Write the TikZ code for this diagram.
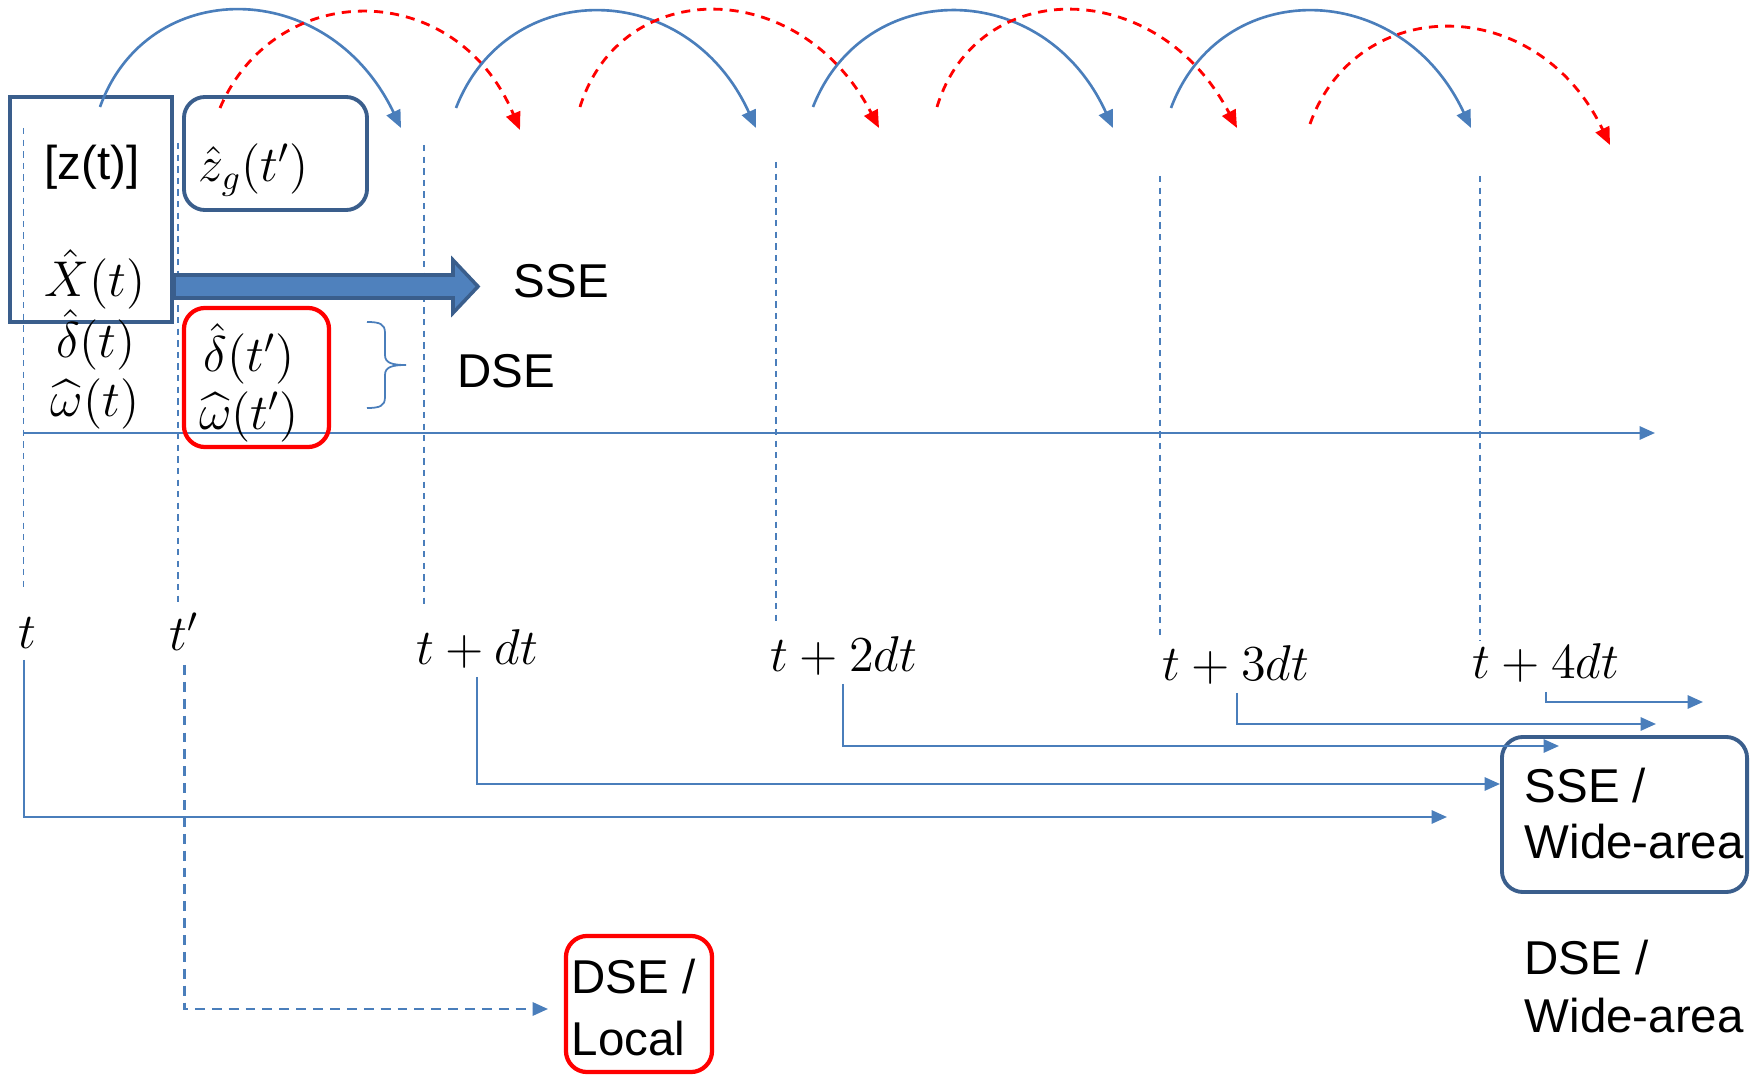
\RequirePackage{fix-cm}
\documentclass[tikz,border=0pt]{standalone}
\usepackage{amsmath}
\usepackage[no-math]{fontspec}
\setmainfont{Liberation Sans}
\usetikzlibrary{arrows.meta}

\definecolor{lineblue}{RGB}{74,126,187}
\definecolor{frameblue}{RGB}{58,94,140}
\definecolor{arrowfill}{RGB}{79,129,189}
\definecolor{dsered}{RGB}{255,0,0}

\begin{document}
\begin{tikzpicture}[x=0.01cm,y=-0.01cm,
  grid tick/.style={draw=lineblue,line width=0.35pt,dash pattern=on 1.8pt off 1.5pt},
  sse hop/.style={draw=lineblue,line width=0.75pt,-{Triangle[length=5pt,width=4.2pt]}},
  dse hop/.style={draw=dsered,line width=0.8pt,dash pattern=on 2.6pt off 2pt,-{Triangle[length=5pt,width=4.2pt]}},
  feed/.style={draw=lineblue,line width=0.6pt,-{Triangle[length=4.4pt,width=3.8pt]}},
  local feed/.style={feed,line width=0.65pt,dash pattern=on 2.8pt off 2pt},
  lbl/.style={inner sep=0pt,font=\fontsize{13.5}{16}\selectfont},
  mth/.style={inner sep=0pt,font=\fontsize{14.3}{17}\selectfont},
  sq frame/.style={draw=frameblue,line width=1pt,inner sep=0pt},
  rnd frame/.style={draw=frameblue,line width=1.1pt,rounded corners=6pt,inner sep=0pt},
  red frame/.style={draw=dsered,line width=1.2pt,rounded corners=6pt,inner sep=0pt},
]
\useasboundingbox (0,0) rectangle (1750,1076);

% time grid
\foreach \x/\a/\b in {23.7/128/592, 178/143/605, 424/145/608, 776/162/623, 1160/176/640, 1480/176/641}
  \draw[grid tick] (\x,\a) -- (\x,\b);

% time axis
\coordinate (ax0) at (23.7,433);
\coordinate (ax1) at (1655,433);
\draw[feed] (ax0) -- (ax1);

% estimator boxes
\node[sq frame,minimum width=1.62cm,minimum height=2.25cm] (zbox) at (91,209.5) {};
\node[rnd frame,minimum width=1.83cm,minimum height=1.13cm] (zgbox) at (275.5,153.5) {};
\node[red frame,minimum width=1.45cm,minimum height=1.39cm] (dbox) at (256.5,377.5) {};

% state quantities
\node[lbl,anchor=base] (zt) at (92,180) {[z(t)]};
\node[mth,anchor=base] (xt) at (95,297) {$\hat{X}(t)$};
\node[mth,anchor=base] (dt) at (96,358) {$\hat{\delta}(t)$};
\node[mth,anchor=base] (wt) at (95,417) {$\widehat{\omega}(t)$};
\node[mth,anchor=base] (zg) at (254,182) {$\hat{z}_g(t')$};
\node[mth,anchor=base] (dtp) at (249,372) {$\hat{\delta}(t')$};
\node[mth,anchor=base] (wtp) at (249,430) {$\widehat{\omega}(t')$};

% block arrow towards SSE
\draw[fill=arrowfill,draw=frameblue,line width=1pt,line join=miter]
  (174,275) -- (453,275) -- (453,260) -- (478,286.5) -- (453,313) -- (453,298) -- (174,298) -- cycle;
\node[lbl,anchor=base west] (sse) at (513,298) {SSE};

% brace grouping the dynamic states
\draw[lineblue,line width=0.5pt]
  (367,322) .. controls (380,322) and (385,324) .. (385,333) -- (385,355)
  .. controls (385,363) and (392,365) .. (406,365)
  .. controls (392,365) and (385,367) .. (385,375) -- (385,397)
  .. controls (385,406) and (380,408) .. (367,408);
\node[lbl,anchor=base west] (dse) at (457,388) {DSE};

% hops between time steps
\coordinate (h1s) at (100,107);  \coordinate (h1e) at (401,128);
\coordinate (r1s) at (220,108);  \coordinate (r1e) at (520,130);
\coordinate (h2s) at (456,108);  \coordinate (h2e) at (756,128);
\coordinate (r2s) at (580,107);  \coordinate (r2e) at (879,128);
\coordinate (h3s) at (813,107);  \coordinate (h3e) at (1113,128);
\coordinate (r3s) at (937,107);  \coordinate (r3e) at (1237,128);
\coordinate (h4s) at (1171,108); \coordinate (h4e) at (1471,128);
\coordinate (r4s) at (1310,124); \coordinate (r4e) at (1610,145);
\draw[sse hop] (h1s) .. controls (147,-24.5) and (328,-24.5) .. (h1e);
\draw[dse hop] (r1s) .. controls (276,-22.3) and (456,-22.3) .. (r1e);
\draw[sse hop] (h2s) .. controls (507,-23.3) and (687,-23.3) .. (h2e);
\draw[dse hop] (r2s) .. controls (621,-24.5) and (800,-24.5) .. (r2e);
\draw[sse hop] (h3s) .. controls (864,-23.2) and (1044,-23.2) .. (h3e);
\draw[dse hop] (r3s) .. controls (977,-24.5) and (1157,-24.5) .. (r3e);
\draw[sse hop] (h4s) .. controls (1220,-23.3) and (1400,-23.3) .. (h4e);
\draw[dse hop] (r4s) .. controls (1357,-7.5) and (1537,-7.5) .. (r4e);

% time labels
\node[mth,anchor=base] (lt0) at (27,649) {$t$};
\node[mth,anchor=base] (ltp) at (184,651) {$t'$};
\node[mth,anchor=base] (lt1) at (477,665) {$t+dt$};
\node[mth,anchor=base] (lt2) at (844,672) {$t+2dt$};
\node[mth,anchor=base] (lt3) at (1236,680) {$t+3dt$};
\node[mth,anchor=base] (lt4) at (1546,679) {$t+4dt$};

% wide-area and local estimators
\node[rnd frame,minimum width=2.45cm,minimum height=1.55cm] (wide) at (1624.5,814.5) {};
\node[lbl,anchor=base west] (wideA) at (1524,803) {SSE /};
\node[lbl,anchor=base west] (wideB) at (1524,859) {Wide-area};
\node[lbl,anchor=base west] (dwA) at (1524,975) {DSE /};
\node[lbl,anchor=base west] (dwB) at (1524,1032) {Wide-area};
\node[red frame,minimum width=1.46cm,minimum height=1.36cm] (local) at (639,1004) {};
\node[lbl,anchor=base west] (locA) at (571,994) {DSE /};
\node[lbl,anchor=base west] (locB) at (571,1055) {Local};

% measurements handed on to the estimators
\coordinate (f0) at (23.7,660);  \coordinate (g0) at (1447,817);
\coordinate (f1) at (477,677);   \coordinate (g1) at (1500,784);
\coordinate (f2) at (843,684);   \coordinate (g2) at (1559,746);
\coordinate (f3) at (1237,693);  \coordinate (g3) at (1656,724);
\coordinate (f4) at (1546,692);  \coordinate (g4) at (1703,702);
\coordinate (fp) at (184.5,665); \coordinate (gp) at (548,1009);
\draw[feed] (f0) |- (g0);
\draw[feed] (f1) |- (g1);
\draw[feed] (f2) |- (g2);
\draw[feed] (f3) |- (g3);
\draw[feed] (f4) |- (g4);
\draw[local feed] (fp) |- (gp);
\end{tikzpicture}
\end{document}
